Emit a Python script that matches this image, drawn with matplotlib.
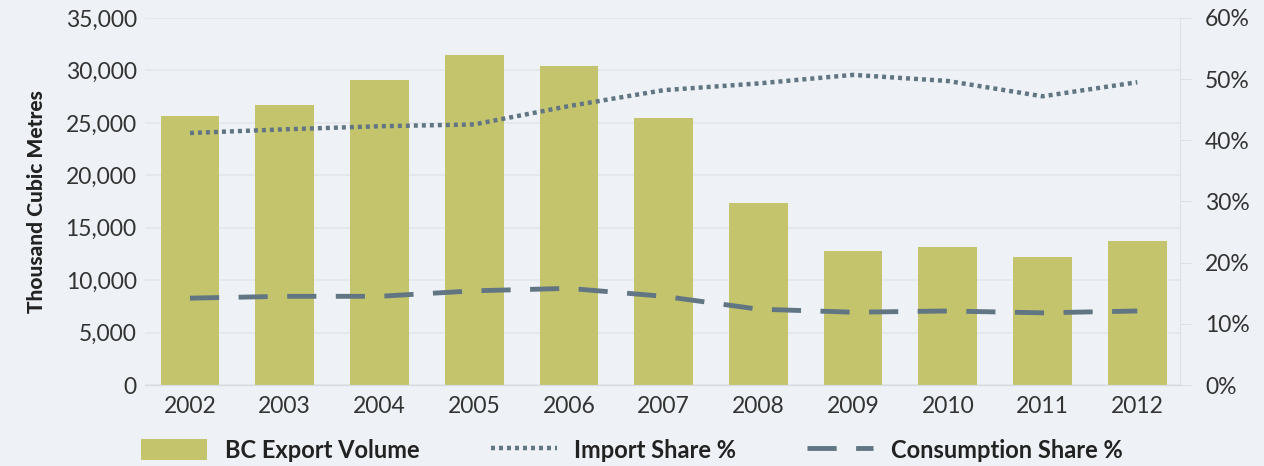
import matplotlib.pyplot as plt
from matplotlib.ticker import FuncFormatter
import numpy as np

years = ["2002", "2003", "2004", "2005", "2006", "2007", "2008", "2009", "2010", "2011", "2012"]
export_volume = [25650, 26700, 29100, 31450, 30400, 25450, 17350, 12800, 13150, 12200, 13700]
import_share = [41.2, 41.8, 42.3, 42.6, 45.6, 48.2, 49.3, 50.7, 49.7, 47.2, 49.5]
consumption_share = [14.2, 14.5, 14.5, 15.4, 15.8, 14.5, 12.4, 11.9, 12.1, 11.8, 12.1]

_BG = "#eef1f5"
_BAR = "#c4c46d"
_LINE = "#617682"
_GRID = "#e2e5ea"
_TEXT = "#333333"

plt.rcParams["font.family"] = ["Lato", "DejaVu Sans"]

fig = plt.figure(figsize=(12.64, 4.66), dpi=100, facecolor=_BG)
ax = fig.add_axes([0.1147, 0.1738, 0.8188, 0.7876], facecolor=_BG)
ax2 = ax.twinx()

x = np.arange(len(years))
bars = ax.bar(x, export_volume, width=0.62, color=_BAR, zorder=2, label="BC Export Volume")
ax.set_ylim(0, 35000)
ax.set_xlim(-0.475, len(years) - 1 + 0.45)
ax.set_yticks(np.arange(0, 35001, 5000))
ax.yaxis.set_major_formatter(FuncFormatter(lambda v, p: f"{int(v):,}"))
ax.set_xticks(x)
ax.set_xticklabels(years)
ax.grid(axis="y", color=_GRID, linewidth=1.2, zorder=0)
ax.set_axisbelow(True)
ax.tick_params(axis="both", length=0, labelsize=16.5, colors=_TEXT, pad=8)
ax.tick_params(axis="y", pad=6)
ax.set_ylabel("Thousand Cubic Metres", fontsize=15, fontweight="black", color="#222222", labelpad=14)

l1, = ax2.plot(x, import_share, color=_LINE, linewidth=3.2, linestyle=(0, (0.9, 0.9)),
               dash_capstyle="butt", label="Import Share %", zorder=3)
l2, = ax2.plot(x, consumption_share, color=_LINE, linewidth=3.5, linestyle=(0, (6, 4)),
               label="Consumption Share %", zorder=3)
ax2.set_ylim(0, 60)
ax2.set_yticks(np.arange(0, 61, 10))
ax2.yaxis.set_major_formatter(FuncFormatter(lambda v, p: f"{int(v)}%"))
ax2.tick_params(axis="y", length=8, labelsize=16.5, colors=_TEXT, pad=10)
ax2.tick_params(axis="y", color="#dde0e5")

for a in (ax, ax2):
    for s in ("top", "left"):
        a.spines[s].set_visible(False)
    a.spines["bottom"].set_color("#d8dbe0")
    a.spines["right"].set_color("#dde0e5")
ax.spines["right"].set_visible(False)

leg = fig.legend(handles=[bars, l1, l2], loc="center", bbox_to_anchor=(0.5, 1 - 450 / 466),
                 ncol=3, frameon=False, handlelength=2.8, handleheight=1.0,
                 columnspacing=3.0, handletextpad=0.75,
                 prop={"family": ["Lato", "DejaVu Sans"], "weight": "bold", "size": 17})
for t in leg.get_texts():
    t.set_color("#222222")

fig.savefig("out.png", dpi=100, facecolor=_BG)
